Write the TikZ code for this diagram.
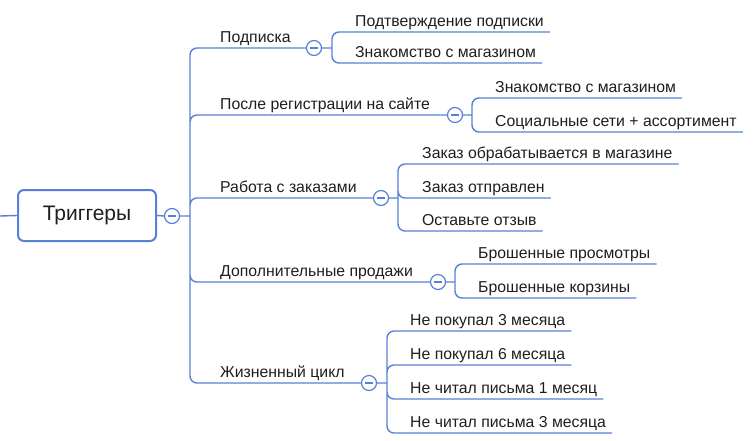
\documentclass[tikz,border=0pt]{standalone}
\usepackage{fontspec}
\setmainfont{Liberation Sans}
\definecolor{linkc}{RGB}{88,128,214}
\definecolor{inkc}{RGB}{30,30,30}
\tikzset{
  link/.style={draw=linkc, line width=1.4pt, rounded corners=7pt},
  rootbox/.style={draw=linkc, line width=2pt, rounded corners=6pt, fill=white,
    minimum width=138pt, minimum height=51pt, text=inkc,
    font=\fontsize{21}{25}\selectfont},
  toggle/.style={circle, draw=linkc, line width=1.2pt, fill=white, minimum size=15pt,
    inner sep=0pt, path picture={\draw[linkc, line width=1.2pt]
      ([xshift=3.5pt]path picture bounding box.west) --
      ([xshift=-3.5pt]path picture bounding box.east);}},
  branch/.style={anchor=south west, inner sep=0pt, text depth=0pt, text=inkc,
    font=\fontsize{15.8}{19}\selectfont},
  leaf/.style={anchor=south west, inner xsep=6pt, inner ysep=5pt, text depth=0pt,
    text=inkc, font=\fontsize{15.8}{19}\selectfont}
}
\begin{document}
\begin{tikzpicture}[x=1pt, y=-1pt]
      \useasboundingbox (0, 0) rectangle (754, 440);
      % root
      \node[rootbox] (root) at (87, 215.5) {Триггеры};
      \node[toggle] (c0) at (172, 216) {};
      \coordinate (in) at (0, 216);
      \coordinate (t) at (190, 216);
      % first level
      \node[branch] (p1) at (220, 43) {Подписка};
      \node[branch] (p2) at (220, 110) {После регистрации на сайте};
      \node[branch] (p3) at (220, 193) {Работа с заказами};
      \node[branch] (p4) at (220, 277) {Дополнительные продажи};
      \node[branch] (p5) at (220, 378) {Жизненный цикл};
      \node[toggle] (c1) at (314, 48) {};
      \node[toggle] (c2) at (455, 115) {};
      \node[toggle] (c3) at (381, 198) {};
      \node[toggle] (c4) at (438, 282) {};
      \node[toggle] (c5) at (369, 383) {};
      \coordinate (b1) at (332, 48);
      \coordinate (b2) at (472, 115);
      \coordinate (b3) at (398, 198);
      \coordinate (b4) at (455, 282);
      \coordinate (b5) at (387, 383);
      % second level
      \node[leaf] (s11) at (349, 32) {Подтверждение подписки};
      \node[leaf] (s12) at (349, 63) {Знакомство с магазином};
      \node[leaf] (s21) at (489, 98) {Знакомство с магазином};
      \node[leaf] (s22) at (489, 132) {Социальные сети + ассортимент};
      \node[leaf] (s31) at (416, 164) {Заказ обрабатывается в магазине};
      \node[leaf] (s32) at (416, 198) {Заказ отправлен};
      \node[leaf] (s33) at (416, 231) {Оставьте отзыв};
      \node[leaf] (s41) at (472, 264) {Брошенные просмотры};
      \node[leaf] (s42) at (472, 298) {Брошенные корзины};
      \node[leaf] (s51) at (404, 331) {Не покупал 3 месяца};
      \node[leaf] (s52) at (404, 365) {Не покупал 6 месяца};
      \node[leaf] (s53) at (404, 399) {Не читал письма 1 месяц};
      \node[leaf] (s54) at (404, 433) {Не читал письма 3 месяца};
      % connectors
      \draw[link] (in) -- (root.west)
                  (root.east) -- (c0.west)
                  (c0.east) -- (t);
      \draw[link] (t) |- (c1.west)
                  (t) |- (c2.west)
                  (t) |- (c3.west)
                  (t) |- (c4.west)
                  (t) |- (c5.west);
      \draw[link] (c1.east) -- (b1) (b1) |- (s11.south east) (b1) |- (s12.south east);
      \draw[link] (c2.east) -- (b2) (b2) |- (s21.south east) (b2) |- (s22.south east);
      \draw[link] (c3.east) -- (b3) (b3) |- (s31.south east) (b3) |- (s32.south east)
                  (b3) |- (s33.south east);
      \draw[link] (c4.east) -- (b4) (b4) |- (s41.south east) (b4) |- (s42.south east);
      \draw[link] (c5.east) -- (b5) (b5) |- (s51.south east) (b5) |- (s52.south east)
                  (b5) |- (s53.south east) (b5) |- (s54.south east);
\end{tikzpicture}
\end{document}
